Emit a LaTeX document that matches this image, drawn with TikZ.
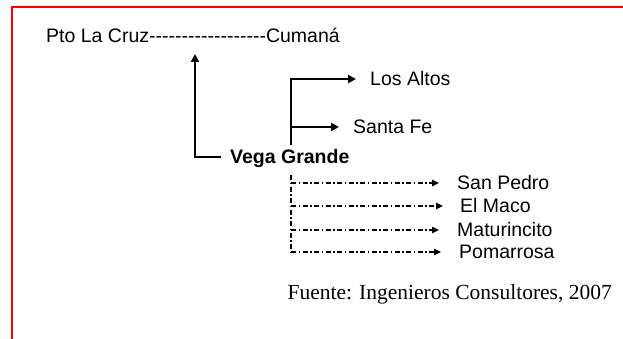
\documentclass[tikz,border=0pt]{standalone}
\usepackage{fontspec}
\newfontfamily\arialfont{Liberation Sans}
\newfontfamily\timesfont{Liberation Serif}
\usetikzlibrary{arrows.meta}
\tikzset{
  lbl/.style={font=\arialfont\fontsize{19.5}{22}\selectfont, inner sep=0pt, anchor=west},
  bold lbl/.style={font=\arialfont\bfseries\fontsize{19.5}{22}\selectfont, inner sep=0pt, anchor=west},
  arr/.style={line width=2.6pt, -{Triangle[length=8pt,width=8pt]}},
  dd/.style={line width=1.3pt, dash pattern=on 5pt off 2.5pt on 1.5pt off 2.5pt},
  ddarr/.style={dd, -{Triangle[length=7pt,width=6.5pt]}},
}
\begin{document}
\begin{tikzpicture}[x=1pt,y=-1pt]
\useasboundingbox (0,0) rectangle (623,339);
\fill[white] (0,0) rectangle (623,339);
\draw[red, line width=2pt] (12,339) -- (12,7) -- (623,7);

\node[lbl] (top) at (46,35) {Pto La Cruz-{}-{}-{}-{}-{}-{}-{}-{}-{}-{}-{}-{}-{}-{}-{}-{}-{}-{}Cumaná};
\node[bold lbl] (vg) at (230,159) {Vega Grande};
\node[lbl] (la) at (370,79) {Los Altos};
\node[lbl] (sf) at (353,127) {Santa Fe};
\node[lbl] (sp) at (457,183) {San Pedro};
\node[lbl] (em) at (460,206) {El Maco};
\node[lbl] (ma) at (457,230) {Maturincito};
\node[lbl] (po) at (459,252) {Pomarrosa};
\node[font=\timesfont\fontsize{21.5}{24}\selectfont, inner sep=0pt, anchor=east] (src) at (612,294) {Fuente: Ingenieros Consultores, 2007};

\coordinate (up) at (195,54);
\coordinate (vgl) at (221,157);
\coordinate (vgt) at (291,145);
\coordinate (sfj) at (291,127);
\coordinate (dtop) at (291,175);
\coordinate (dbot) at (291,252);
\coordinate (j1) at (291,183);
\coordinate (j2) at (291,206);
\coordinate (j3) at (291,230);

\draw[arr] (vgl) -| (up);
\draw[arr, shorten >=14pt] (vgt) |- (la.west);
\draw[arr, shorten >=14pt] (sfj) -- (sf.west);

\draw[dd] (dtop) -- (dbot);
\draw[ddarr, shorten >=18pt] (j1) -- (sp.west |- j1);
\draw[ddarr, shorten >=17pt] (j2) -- (em.west |- j2);
\draw[ddarr, shorten >=18pt] (j3) -- (ma.west |- j3);
\draw[ddarr, shorten >=18pt] (dbot) -- (po.west |- dbot);
\end{tikzpicture}
\end{document}
